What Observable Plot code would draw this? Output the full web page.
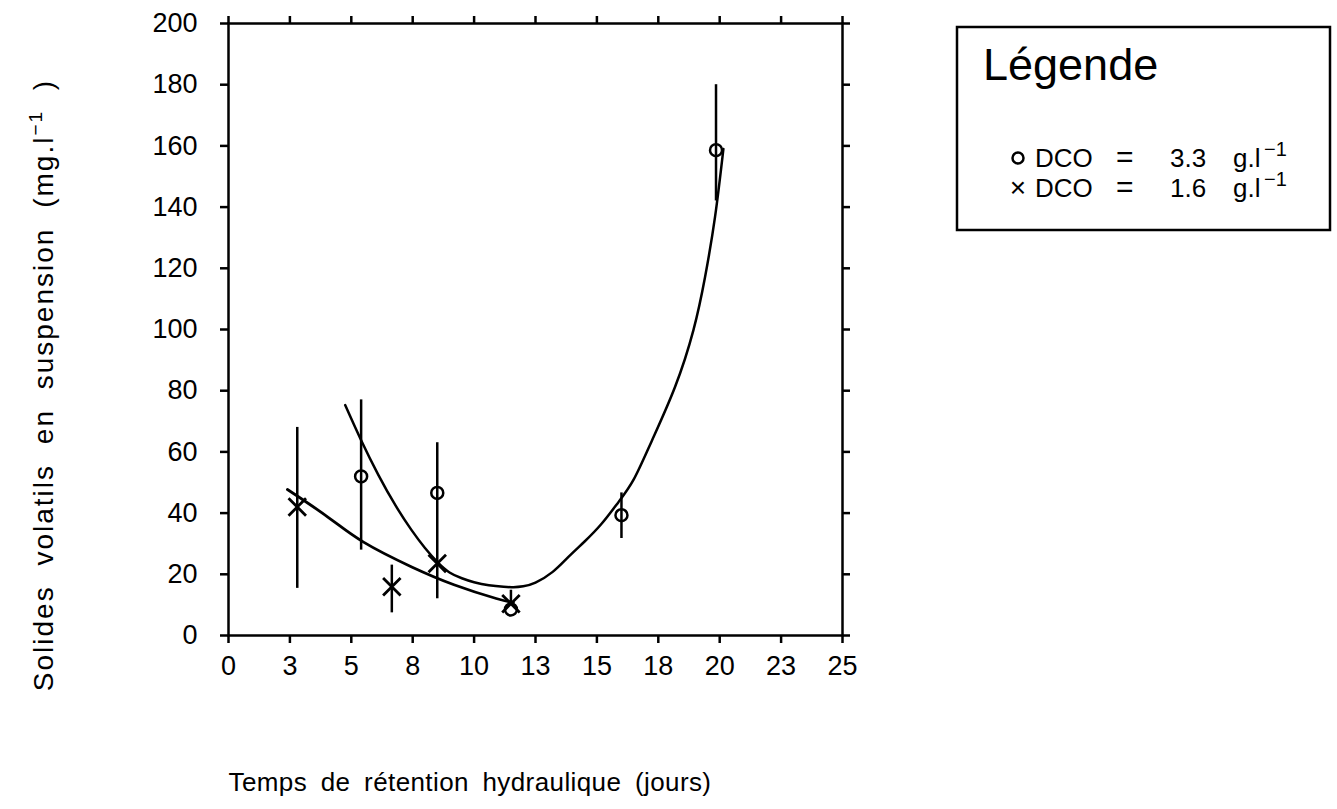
<!DOCTYPE html>
<html><head><meta charset="utf-8">
<script src="https://cdn.jsdelivr.net/npm/d3@7"></script>
<script src="https://cdn.jsdelivr.net/npm/@observablehq/plot@0.6"></script>
<style>
body{margin:0;background:#fff;}
#wrap{position:relative;width:1337px;height:809px;font-family:"Liberation Sans",Arial,sans-serif;color:#000;}
#chart svg{display:block}
.ov{position:absolute;left:0;top:0;pointer-events:none}
</style></head><body>
<div id="wrap"><div id="chart"></div>
<svg class="ov" width="1337" height="809" font-family="Liberation Sans, Arial, sans-serif">
  <text transform="translate(53,385) rotate(-90)" text-anchor="middle" font-size="28" letter-spacing="2" word-spacing="10">Solides volatils en suspension (mg.l<tspan dy="-11" font-size="19">−1</tspan><tspan dy="11"> )</tspan></text>
  <text x="470" y="791" text-anchor="middle" font-size="26" letter-spacing="0.4" word-spacing="6">Temps de rétention hydraulique (jours)</text>
  <rect x="957" y="27" width="373" height="203" fill="none" stroke="#000" stroke-width="2.5"/>
  <text x="983" y="80" font-size="45">Légende</text>
  <circle cx="1018" cy="158" r="5.5" fill="none" stroke="#000" stroke-width="2.5"/>
  <text y="167" font-size="26"><tspan x="1035">DCO</tspan><tspan x="1116" font-size="30">=</tspan><tspan x="1170">3.3</tspan><tspan x="1233">g.l</tspan><tspan x="1264" dy="-11" font-size="20">−1</tspan></text>
  <text x="1018" y="197" font-size="28" text-anchor="middle">×</text>
  <text y="197" font-size="26"><tspan x="1035">DCO</tspan><tspan x="1116" font-size="30">=</tspan><tspan x="1170">1.6</tspan><tspan x="1233">g.l</tspan><tspan x="1264" dy="-11" font-size="20">−1</tspan></text>
</svg>
</div>
<script>
// Axis ticks
const xTickValues = [0, 2.5, 5, 7.5, 10, 12.5, 15, 17.5, 20, 22.5, 25];
const xTickLabels = ["0", "3", "5", "8", "10", "13", "15", "18", "20", "23", "25"];
const yTickValues = [0, 20, 40, 60, 80, 100, 120, 140, 160, 180, 200];

// Series DCO = 3.3 g/l (circles)
const circX  = [5.4, 8.5, 11.5, 16.0, 19.85];
const circY  = [52, 46.6, 8.5, 39.3, 158.6];
const circLo = [27.9, 12, 8.5, 31.7, 142];
const circHi = [77, 63, 8.5, 46.6, 180];

// Series DCO = 1.6 g/l (crosses)
const crossX  = [2.8, 6.65, 8.5, 11.5];
const crossY  = [42, 15.9, 23.5, 10.4];
const crossLo = [15.4, 7.4, 23.5, 10.4];
const crossHi = [68, 23, 23.5, 14.8];

// Fitted curves
const circCurveX = [4.75, 5.4, 6.1, 6.8, 7.44, 8.0, 8.53, 9.0, 9.5, 10.0, 10.6, 11.2, 11.6, 12.0, 12.5, 13.2, 13.83, 14.51, 15.19, 15.87, 16.5, 17.23, 18.18, 18.93, 19.4, 19.81, 20.15];
const circCurveY = [75.3, 63.8, 52.5, 42.5, 34.6, 28.6, 23.8, 20.6, 18.7, 17.4, 16.4, 15.9, 15.8, 16.1, 17.3, 20.8, 25.6, 30.8, 36.5, 43.5, 51, 63.5, 81.2, 99.8, 117, 136.8, 159];
const crossCurveX = [2.4, 4.03, 5.5, 7.46, 9.18, 10.9, 11.6];
const crossCurveY = [47.7, 38.8, 30.5, 22.4, 16.6, 12.1, 10.8];

const circ = circX.map((x, i) => ({x, y: circY[i], lo: circLo[i], hi: circHi[i]}));
const cross = crossX.map((x, i) => ({x, y: crossY[i], lo: crossLo[i], hi: crossHi[i]}));
const circCurve = circCurveX.map((x, i) => ({x, y: circCurveY[i]}));
const crossCurve = crossCurveX.map((x, i) => ({x, y: crossCurveY[i]}));

const chart = Plot.plot({
  width: 1337,
  height: 809,
  marginLeft: 228,
  marginRight: 495,
  marginTop: 23,
  marginBottom: 174,
  style: {fontFamily: "Liberation Sans, Arial, sans-serif", fontSize: "27px", color: "#000", background: "#fff"},
  x: {domain: [0, 25]},
  y: {domain: [0, 200]},
  marks: [
    Plot.frame({stroke: "#000", strokeWidth: 2.5}),
    Plot.axisX({ticks: xTickValues, tickFormat: d => xTickLabels[xTickValues.indexOf(d)], tickSize: 8, tickPadding: 12, strokeWidth: 2.5, label: null}),
    Plot.axisX({anchor: "top", ticks: xTickValues, tickFormat: () => "", tickSize: 8, strokeWidth: 2.5, label: null}),
    Plot.axisY({ticks: yTickValues, tickSize: 8, tickPadding: 23, strokeWidth: 2.5, label: null}),
    Plot.axisY({anchor: "right", ticks: yTickValues, tickFormat: () => "", tickSize: 7, strokeWidth: 2.5, label: null}),
    Plot.line(circCurve, {x: "x", y: "y", curve: "natural", stroke: "#000", strokeWidth: 2.5}),
    Plot.line(crossCurve, {x: "x", y: "y", curve: "natural", stroke: "#000", strokeWidth: 2.8}),
    Plot.ruleX(circ, {x: "x", y1: "lo", y2: "hi", stroke: "#000", strokeWidth: 2.5}),
    Plot.ruleX(cross, {x: "x", y1: "lo", y2: "hi", stroke: "#000", strokeWidth: 2.5}),
    Plot.dot(circ, {x: "x", y: "y", r: 6, symbol: "circle", fill: "none", stroke: "#000", strokeWidth: 2.5}),
    Plot.dot(cross, {x: "x", y: "y", r: 8, symbol: "times", stroke: "#000", strokeWidth: 2.8})
  ]
});
document.getElementById("chart").appendChild(chart);
</script>
</body></html>
